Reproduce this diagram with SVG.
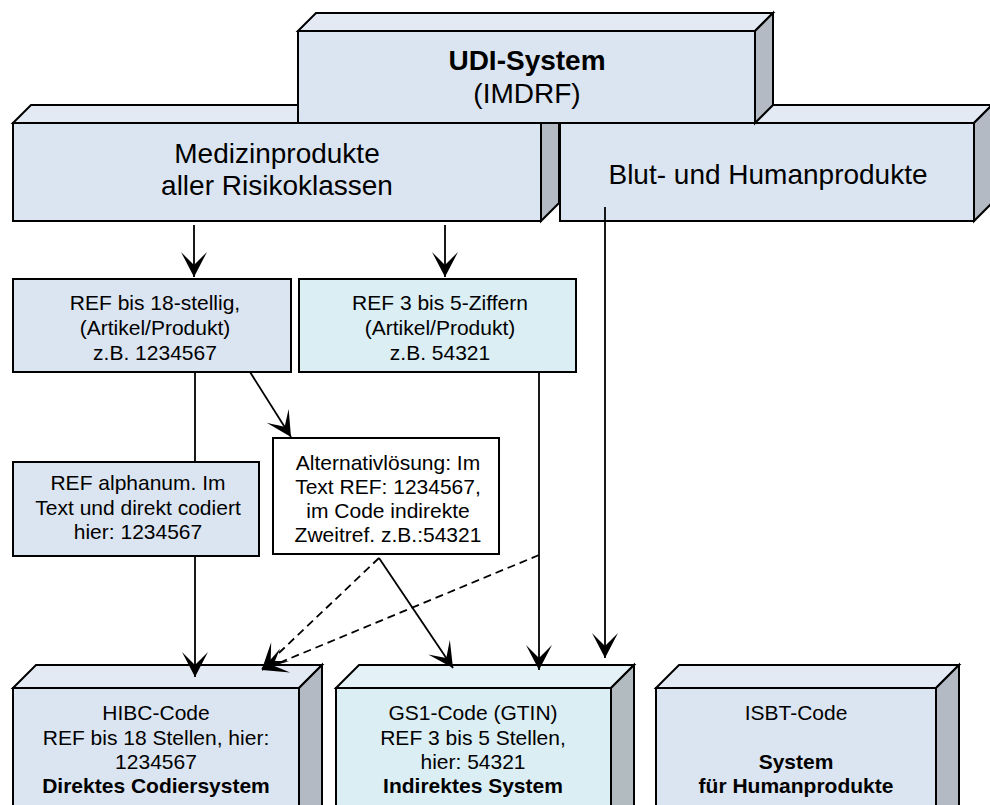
<svg xmlns="http://www.w3.org/2000/svg" width="990" height="805" viewBox="0 0 990 805">
<defs>
<style>
.front{fill:#dbe5f1;stroke:#000;stroke-width:2;stroke-linejoin:miter}
.top{fill:#e3eaf4;stroke:#000;stroke-width:2;stroke-linejoin:miter}
.side{fill:#b3bac4;stroke:#000;stroke-width:2;stroke-linejoin:miter}
.frontc{fill:#dbeef4;stroke:#000;stroke-width:2}
.topc{fill:#e4f1f6;stroke:#000;stroke-width:2}
.sidec{fill:#b2bcc0;stroke:#000;stroke-width:2}
.box{fill:#dbe5f1;stroke:#000;stroke-width:2}
.boxc{fill:#dbeef4;stroke:#000;stroke-width:2}
.boxw{fill:#ffffff;stroke:#000;stroke-width:2}
.t{font-family:"Liberation Sans",Arial,sans-serif;font-size:21px;text-anchor:middle;fill:#000}
.big{font-family:"Liberation Sans",Arial,sans-serif;font-size:28px;text-anchor:middle;fill:#000}
.b{font-weight:bold}
.c{fill:none;stroke:#000;stroke-width:1.8}
.d{fill:none;stroke:#000;stroke-width:1.8;stroke-dasharray:8,5}
</style>
<marker id="ah" markerUnits="userSpaceOnUse" viewBox="-27 -14 28 28" refX="0" refY="0" markerWidth="28" markerHeight="28" orient="auto">
<path d="M0,0 L-25,-13 Q-15,-3 -12,0 Q-15,3 -25,13 Z" fill="#000"/>
</marker>
</defs>

<g id="node-medizin">
<polygon class="top" points="13,123 31,105 559,105 541,123"/>
<polygon class="side" points="541,123 559,105 559,203 541,221"/>
<rect class="front" x="13" y="123" width="528" height="98"/>
<text class="big" x="277" y="163">Medizinprodukte</text>
<text class="big" x="277" y="195">aller Risikoklassen</text>
</g>

<g id="node-blut">
<polygon class="top" points="560,123 578,105 992,105 974,123"/>
<polygon class="side" points="974,123 992,105 992,203 974,221"/>
<rect class="front" x="560" y="123" width="414" height="98"/>
<text class="big" x="768" y="184">Blut- und Humanprodukte</text>
</g>

<g id="node-udi">
<polygon class="top" points="298,31 316,13 773,13 755,31"/>
<polygon class="side" points="755,31 773,13 773,105 755,123"/>
<rect class="front" x="298" y="31" width="457" height="92"/>
<text class="big b" x="527" y="70">UDI-System</text>
<text class="big" x="527" y="103">(IMDRF)</text>
</g>

<g id="node-ref18">
<rect class="box" x="13" y="279" width="278" height="93"/>
<text class="t" x="155" y="310">REF bis 18-stellig,</text>
<text class="t" x="155" y="335">(Artikel/Produkt)</text>
<text class="t" x="155" y="360">z.B. 1234567</text>
</g>

<g id="node-ref5">
<rect class="boxc" x="299" y="279" width="277" height="93"/>
<text class="t" x="440" y="310">REF 3 bis 5-Ziffern</text>
<text class="t" x="440" y="335">(Artikel/Produkt)</text>
<text class="t" x="440" y="360">z.B. 54321</text>
</g>

<g id="node-alphanum">
<rect class="box" x="13" y="462" width="246" height="94"/>
<text class="t" x="138" y="490">REF alphanum. Im</text>
<text class="t" x="138" y="515">Text und direkt codiert</text>
<text class="t" x="138" y="539">hier: 1234567</text>
</g>

<g id="node-alternativ">
<rect class="boxw" x="273" y="438" width="226" height="116"/>
<text class="t" x="388" y="470">Alternativlösung: Im</text>
<text class="t" x="388" y="494">Text REF: 1234567,</text>
<text class="t" x="388" y="518">im Code indirekte</text>
<text class="t" x="388" y="542">Zweitref. z.B.:54321</text>
</g>

<g id="node-hibc">
<polygon class="top" points="13,688 36,665 322,665 299,688"/>
<polygon class="side" points="299,688 322,665 322,820 299,843"/>
<rect class="front" x="13" y="688" width="286" height="150"/>
<text class="t" x="156" y="720">HIBC-Code</text>
<text class="t" x="156" y="745">REF bis 18 Stellen, hier:</text>
<text class="t" x="156" y="769">1234567</text>
<text class="t b" x="156" y="793">Direktes Codiersystem</text>
</g>

<g id="node-gs1">
<polygon class="topc" points="336,688 359,665 634,665 611,688"/>
<polygon class="sidec" points="611,688 634,665 634,820 611,843"/>
<rect class="frontc" x="336" y="688" width="275" height="150"/>
<text class="t" x="473" y="720">GS1-Code (GTIN)</text>
<text class="t" x="473" y="745">REF 3 bis 5 Stellen,</text>
<text class="t" x="473" y="769">hier: 54321</text>
<text class="t b" x="473" y="793">Indirektes System</text>
</g>

<g id="node-isbt">
<polygon class="top" points="656,688 679,665 959,665 936,688"/>
<polygon class="side" points="936,688 959,665 959,820 936,843"/>
<rect class="front" x="656" y="688" width="280" height="150"/>
<text class="t" x="796" y="720">ISBT-Code</text>
<text class="t b" x="796" y="769">System</text>
<text class="t b" x="796" y="793">für Humanprodukte</text>
</g>

<g id="connectors">
<line class="c" x1="194" y1="225" x2="194" y2="277" marker-end="url(#ah)"/>
<line class="c" x1="445" y1="225" x2="445" y2="277" marker-end="url(#ah)"/>
<line class="c" x1="195" y1="372" x2="195" y2="462"/>
<line class="c" x1="195" y1="556" x2="195" y2="677" marker-end="url(#ah)"/>
<line class="c" x1="250" y1="372" x2="291" y2="437" marker-end="url(#ah)"/>
<line class="c" x1="379" y1="558" x2="453" y2="668" marker-end="url(#ah)"/>
<line class="d" x1="379" y1="558" x2="262" y2="669" marker-end="url(#ah)"/>
<line class="d" x1="539" y1="555" x2="262" y2="670" marker-end="url(#ah)"/>
<line class="c" x1="539" y1="372" x2="539" y2="670" marker-end="url(#ah)"/>
<line class="c" x1="605" y1="207" x2="605" y2="658" marker-end="url(#ah)"/>
</g>
</svg>
